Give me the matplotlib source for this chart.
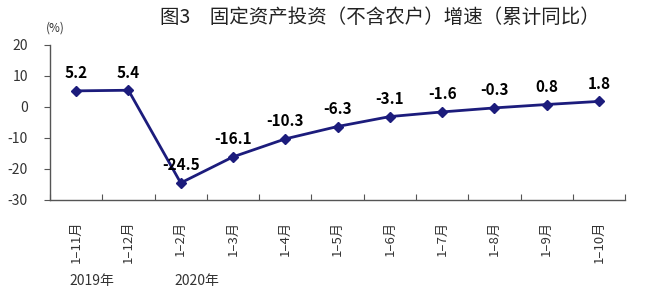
import matplotlib.pyplot as plt
import numpy as np

plt.rcParams['font.family'] = ['Noto Sans CJK SC', 'DejaVu Sans']

months = ['1–11月', '1–12月', '1–2月', '1–3月', '1–4月', '1–5月',
          '1–6月', '1–7月', '1–8月', '1–9月', '1–10月']
growth = [5.2, 5.4, -24.5, -16.1, -10.3, -6.3, -3.1, -1.6, -0.3, 0.8, 1.8]
years = ['2019年', '2020年']
year_start = [0, 2]  # index of first month for each year

line_color = '#1c1c7c'

fig = plt.figure(figsize=(6.52, 2.98), dpi=100)
ax = fig.add_axes([0.0767, 0.329, 0.882, 0.52])

x = np.arange(len(months))
ax.plot(x, growth, color=line_color, lw=2, marker='D', ms=5,
        markerfacecolor=line_color, markeredgecolor=line_color)

# 数据标签
for xi, v in zip(x, growth):
    ax.annotate(f'{v:.1f}', (xi, v), xytext=(0, 7), textcoords='offset points',
                ha='center', va='bottom', fontsize=11, fontweight='bold',
                color='black')

ax.set_xlim(-0.5, len(months) - 0.5)
ax.set_ylim(-30, 20)
ax.set_yticks([20, 10, 0, -10, -20, -30])
ax.set_yticklabels(['20', '10', '0', '-10', '-20', '-30'])
ax.tick_params(axis='y', direction='out', length=4, labelsize=10,
               labelcolor='#333333', color='#555555', pad=12)

# x 轴：刻度在分类边界，标签在分类中心
ax.set_xticks(np.arange(len(months) + 1) - 0.5)
ax.set_xticklabels([])
ax.set_xticks(x, minor=True)
ax.set_xticklabels(months, minor=True, rotation=90, fontsize=9.5, color='#333333')
ax.tick_params(axis='x', which='major', direction='in', length=4, color='#555555')
ax.tick_params(axis='x', which='minor', length=0, pad=15)

for s in ['top', 'right']:
    ax.spines[s].set_visible(False)
for s in ['left', 'bottom']:
    ax.spines[s].set_color('#555555')
    ax.spines[s].set_linewidth(1)

# 年份
trans = ax.get_xaxis_transform()
for yr, i in zip(years, year_start):
    ax.text(i - 0.12, -0.52, yr, transform=trans,
            fontsize=10, color='#333333', ha='left', va='center')

fig.text(0.07, 0.905, '(%)', fontsize=8.5, color='#333333', ha='left', va='center')
fig.text(0.583, 0.94, '图3　固定资产投资（不含农户）增速（累计同比）',
         fontsize=14, color='#222222', ha='center', va='center')

plt.savefig('out.png', dpi=100)
